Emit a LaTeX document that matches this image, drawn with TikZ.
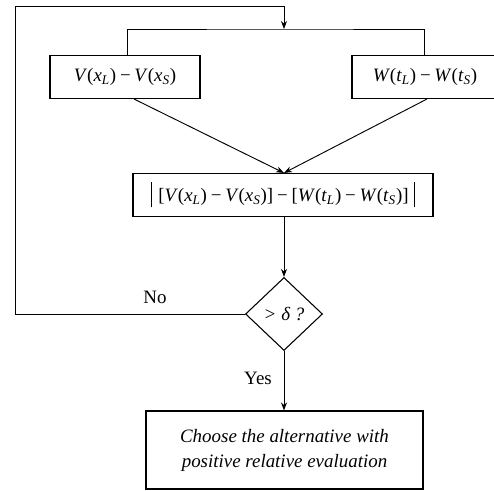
\documentclass[tikz,border=0pt]{standalone}
\usepackage{fontspec}
\setmainfont{Liberation Serif}
\usetikzlibrary{arrows.meta,shapes.geometric}
\newcommand\iv[1]{\textit{#1}}
\newcommand\sbs[1]{\textsubscript{\textit{#1}}}
\newcommand\mm{\hspace{0.2em}−\hspace{0.2em}}
\newcommand\vbar{\raisebox{-0.32em}{\rule{0.7pt}{1.32em}}}
\begin{document}
\begin{tikzpicture}[x=0.75pt,y=-0.75pt,
  every node/.style={font=\fontsize{14.2}{18.75}\selectfont},
  box/.style={draw,line width=0.8pt,inner sep=0pt,align=center},
  line/.style={line width=0.7pt},
  arr/.style={line,-{Stealth[length=6pt,width=4.5pt]}},
  lbl/.style={inner sep=0pt}]
\useasboundingbox (0,0) rectangle (494,491);
\node[box,minimum width=112.5pt,minimum height=32.25pt] (vx) at (125,77)
  {\iv{V}(\iv{x}\sbs{L})\mm\iv{V}(\iv{x}\sbs{S})};
\node[box,minimum width=109.5pt,minimum height=32.25pt] (wt) at (425,77)
  {\iv{W}(\iv{t}\sbs{L})\mm\iv{W}(\iv{t}\sbs{S})};
\node[box,minimum width=225pt,minimum height=32.25pt] (diff) at (283,195)
  {\vbar\hspace{0.35em}[\iv{V}(\iv{x}\sbs{L})\mm\iv{V}(\iv{x}\sbs{S})]\mm[\iv{W}(\iv{t}\sbs{L})\mm\iv{W}(\iv{t}\sbs{S})]\hspace{0.3em}\vbar};
\node[draw,diamond,line width=0.8pt,inner sep=0pt,minimum width=57.75pt,minimum height=54.75pt] (dec) at (284,314)
  {\iv{> δ ?}};
\node[box,minimum width=207.75pt,minimum height=58.5pt] (choose) at (284.5,450)
  {\iv{Choose the alternative with}\\\iv{positive relative evaluation}};
\coordinate (tl) at (15,6);
\coordinate (jn) at (284,29);
\node[lbl] (no) at (155,297) {No};
\node[lbl] (yes) at (258,378) {Yes};
% branches from the top junction
\draw[line] ([xshift=1.5pt]vx.north) |- (jn) -| ([xshift=-0.75pt]wt.north);
% loop back on No
\draw[arr] (dec.west) -| (tl) -| (jn);
% into the difference box
\draw[arr] ([xshift=6.75pt]vx.south) -- (diff.north -| jn);
\draw[arr] ([xshift=1.5pt]wt.south) -- (diff.north -| jn);
\draw[arr] (diff.south -| jn) -- (dec.north);
\draw[arr] (dec.south) -- (choose.north -| dec.south);
\end{tikzpicture}
\end{document}
